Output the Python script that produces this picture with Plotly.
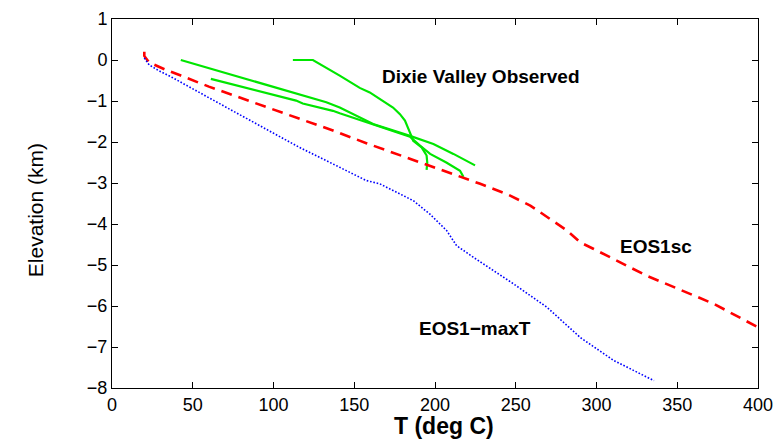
import plotly.graph_objects as go

# EOS1sc model profile (T in deg C, elevation in km)
eos1sc_T = [20, 20, 23, 33.3, 42.6, 60, 108, 136.8, 157.5, 217.6, 228, 245, 259, 281.8, 290, 298.3, 331, 372.8, 400]
eos1sc_z = [0.2, 0.1, -0.06, -0.24, -0.38, -0.65, -1.32, -1.72, -2.03, -2.86, -3.02, -3.28, -3.55, -4.16, -4.45, -4.61, -5.26, -5.95, -6.52]

# EOS1-maxT model profile
maxT_T = [20, 23, 29, 37, 74.7, 116, 157.5, 165.8, 186.5, 196.9, 207.2, 213.4, 223.7, 248.6, 269.3, 290, 310.7, 335.6]
maxT_z = [0.05, -0.12, -0.26, -0.42, -1.24, -2.13, -2.94, -3.02, -3.43, -3.76, -4.16, -4.53, -4.81, -5.46, -6.03, -6.77, -7.33, -7.82]

# Dixie Valley observed well temperature logs
well_a_T = [42.6, 97.5, 132.7, 141, 161.7, 184.5, 199, 211.4, 224.8]
well_a_z = [0.0, -0.63, -1.03, -1.16, -1.56, -1.85, -2.05, -2.29, -2.57]

well_b_T = [61.2, 114, 118.1, 136.8, 141, 161.7, 184.5, 190.7, 197, 207, 215.5, 217.6]
well_b_z = [-0.46, -0.99, -1.06, -1.24, -1.3, -1.58, -1.87, -2.09, -2.29, -2.5, -2.7, -2.85]

well_c_T = [112, 124.4, 141, 153.4, 159.6, 174, 178.3, 181.4, 184.5, 186.5, 191.7, 194.8, 195.2, 194.8]
well_c_z = [0.0, 0.0, -0.38, -0.68, -0.79, -1.16, -1.32, -1.48, -1.77, -1.97, -2.13, -2.33, -2.5, -2.68]

x_ticks = [0, 50, 100, 150, 200, 250, 300, 350, 400]
y_ticks = [1, 0, -1, -2, -3, -4, -5, -6, -7, -8]

FONT = "Liberation Sans, Arial, sans-serif"

fig = go.Figure()
for T, z in [(well_a_T, well_a_z), (well_b_T, well_b_z), (well_c_T, well_c_z)]:
    fig.add_trace(go.Scatter(x=T, y=z, mode="lines",
                             line=dict(color="#00e600", width=2.2)))
fig.add_trace(go.Scatter(x=eos1sc_T, y=eos1sc_z, mode="lines",
                         line=dict(color="#ff0000", width=2.6, dash="11px,7px")))
fig.add_trace(go.Scatter(x=maxT_T, y=maxT_z, mode="lines",
                         line=dict(color="#0000ff", width=1.6, dash="1.6px,1.8px")))

labels = [("Dixie Valley Observed", 228.5, -0.4),
          ("EOS1sc", 337, -4.55),
          ("EOS1\u2212maxT", 225, -6.55)]
for text, x, y in labels:
    fig.add_annotation(x=x, y=y, text=f"<b>{text}</b>", showarrow=False,
                       font=dict(family=FONT, size=19, color="black"))

# axis titles
fig.add_annotation(xref="paper", yref="paper", x=0.514, y=0, yanchor="top", yshift=-23,
                   text="<b>T (deg C)</b>", showarrow=False,
                   font=dict(family=FONT, size=23, color="black"))
fig.add_annotation(xref="paper", yref="paper", x=-0.14, y=0.482, textangle=-90,
                   text="Elevation (km)", showarrow=False,
                   font=dict(family=FONT, size=21, color="black"))

axis_common = dict(showgrid=False, zeroline=False, showline=True, linecolor="black",
                   linewidth=1, mirror="ticks", ticks="inside", ticklen=6,
                   tickcolor="black", automargin=False,
                   tickfont=dict(family=FONT, size=18, color="black"))

fig.update_xaxes(range=[0, 400], tickvals=x_ticks, **axis_common)
fig.update_yaxes(range=[-8, 1], tickvals=y_ticks, **axis_common)

fig.update_layout(width=776, height=441, showlegend=False,
                  plot_bgcolor="white", paper_bgcolor="white",
                  margin=dict(l=112, r=18, t=19, b=53))

fig.write_html("out.html")
